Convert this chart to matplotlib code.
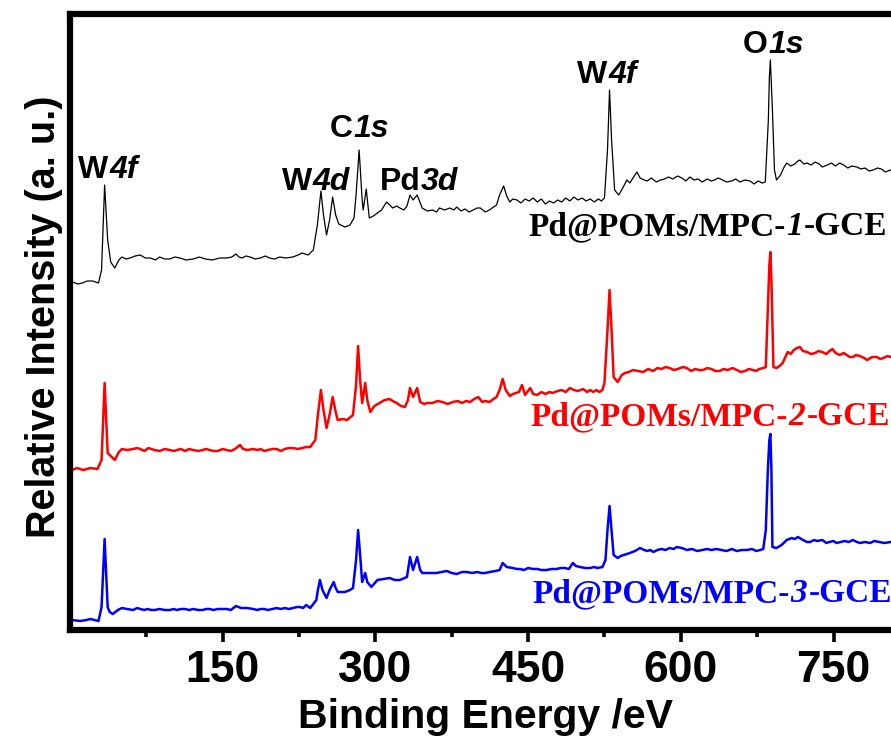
import matplotlib
matplotlib.use('Agg')
import matplotlib.pyplot as plt
from matplotlib.ticker import FixedLocator

# XPS survey spectra (intensity in a.u., curves already stacked)
energy_1 = [2, 8, 12, 17, 22, 28, 31, 34, 37, 40,
            44, 48, 51, 55, 59, 64, 69, 74, 79, 84,
            88, 93, 98, 103, 108, 114, 121, 127, 133, 140,
            147, 154, 159, 163, 166, 169, 173, 177, 182, 187,
            192, 196, 201, 206, 212, 219, 224, 228, 234, 239,
            243, 246.5, 249, 252, 255, 258, 261, 264, 270, 275,
            279, 281, 284, 287, 288, 291, 294, 298, 302, 306,
            311, 314, 317, 321, 324, 328, 331, 334, 337, 341,
            346, 351, 356, 360, 363, 368, 373, 377, 380, 384,
            388, 392, 396, 400, 403, 408, 412, 416, 419, 422,
            426, 429, 432, 435, 439, 443, 447, 451, 455, 459,
            463, 467, 471, 475, 479, 483, 487, 491, 495, 499,
            503, 507, 511, 515, 519, 522, 525, 528, 530, 532,
            535, 539, 543, 547, 550, 553, 557, 560, 564, 567,
            571, 576, 580, 584, 588, 592, 597, 601, 605, 609,
            613, 617, 621, 626, 630, 633, 637, 641, 645, 650,
            654, 658, 663, 668, 672, 676, 680, 683, 686, 687,
            688, 690, 692, 694, 698, 701, 704, 708, 712, 715,
            717, 721, 724, 728, 732, 736, 739, 744, 748, 752,
            756, 760, 764, 768, 773, 777, 781, 785, 789, 793,
            797, 801, 806, 815]
intensity_1 = [348, 346, 347, 349, 349, 347, 360, 445, 390, 368,
               362, 370, 373, 371, 372, 374, 375, 372, 372, 370,
               373, 371, 371, 373, 372, 370, 371, 373, 371, 370,
               372, 372, 373, 376, 373, 372, 374, 373, 371, 372,
               374, 372, 371, 373, 372, 373, 375, 377, 375, 380,
               405, 439, 415, 395, 410, 433, 415, 406, 403, 405,
               412, 435, 480, 430, 420, 441, 412, 414, 417, 420,
               428, 425, 422, 424, 422, 420, 424, 435, 430, 435,
               422, 419, 420, 418, 422, 420, 422, 420, 423, 419,
               421, 418, 420, 422, 422, 418, 420, 423, 425, 435,
               444, 434, 428, 431, 430, 427, 431, 429, 432, 428,
               431, 426, 429, 427, 430, 428, 432, 429, 433, 430,
               432, 429, 431, 428, 431, 429, 432, 480, 540, 490,
               440, 435, 442, 450, 447, 452, 458, 452, 450, 449,
               452, 448, 450, 451, 453, 451, 454, 452, 449, 453,
               450, 451, 448, 451, 449, 450, 452, 450, 448, 449,
               451, 448, 450, 449, 446, 449, 447, 448, 510, 553,
               570, 520, 460, 450, 455, 462, 467, 464, 466, 469,
               470, 466, 467, 465, 468, 466, 463, 465, 467, 464,
               467, 465, 462, 464, 463, 461, 462, 459, 460, 462,
               461, 458, 460, 460]

energy_2 = [2, 7, 13, 20, 27, 31, 34, 37, 39, 44,
            48, 51, 56, 62, 66, 69, 73, 77, 83, 88,
            93, 98, 102, 105, 109, 113, 117, 121, 126, 130,
            134, 137, 141, 145, 150, 154, 158, 162, 167, 170,
            174, 180, 184, 187, 191, 194, 199, 203, 207, 211,
            215, 219, 224, 228, 232, 236, 241, 243.5, 246.5, 249,
            252, 255, 258, 261, 263, 268, 272, 278, 281, 283,
            285, 287, 290, 292, 295, 299, 304, 309, 314, 317,
            321, 325, 329, 332, 334, 337, 341, 344, 348, 351,
            356, 361, 366, 371, 376, 381, 385, 389, 393, 397,
            401, 405, 408, 412, 416, 419, 422, 425, 428, 432,
            435, 438, 441, 444, 447, 452, 455, 459, 463, 467,
            471, 474, 479, 483, 487, 491, 495, 499, 504, 508,
            511, 514, 517, 520, 523, 525, 528, 530, 532, 534,
            538, 542, 545, 549, 553, 558, 563, 568, 573, 577,
            581, 585, 589, 593, 597, 602, 606, 610, 614, 618,
            622, 626, 630, 634, 638, 642, 646, 651, 655, 659,
            663, 667, 671, 674, 677, 681, 683.5, 685.5, 687, 688,
            689, 691, 694, 697, 700, 705, 708, 711, 714, 717,
            720, 724, 728, 732, 735, 739, 743, 746, 749, 752,
            756, 760, 763, 766, 769, 772, 776, 780, 783, 788,
            792.5, 796, 799, 803, 806, 815]
intensity_2 = [160, 162, 160, 162, 161, 170, 247, 177, 175, 170,
               178, 181, 180, 181, 182, 181, 179, 182, 180, 179,
               181, 180, 179, 180, 181, 179, 181, 180, 179, 180,
               181, 180, 179, 179, 181, 180, 179, 181, 185, 181,
               180, 181, 180, 181, 179, 180, 181, 181, 179, 181,
               182, 182, 181, 182, 183, 183, 190, 215, 240, 220,
               202, 215, 233, 218, 210, 211, 210, 215, 245, 284,
               250, 227, 247, 230, 218, 224, 227, 230, 231, 229,
               227, 224, 223, 230, 242, 233, 242, 228, 226, 227,
               227, 229, 228, 226, 228, 229, 227, 229, 228, 231,
               233, 228, 229, 228, 231, 233, 240, 251, 240, 234,
               236, 237, 238, 245, 235, 242, 236, 235, 238, 236,
               238, 237, 239, 240, 238, 242, 240, 239, 241, 238,
               240, 238, 240, 238, 240, 247, 300, 340, 300, 253,
               248, 255, 257, 258, 260, 259, 258, 261, 259, 262,
               261, 263, 262, 260, 261, 263, 262, 259, 261, 260,
               260, 262, 261, 259, 259, 261, 260, 262, 260, 258,
               259, 261, 260, 259, 261, 262, 263, 320, 365, 378,
               350, 263, 262, 264, 267, 278, 276, 280, 282, 283,
               279, 278, 276, 277, 279, 278, 276, 279, 281, 277,
               275, 277, 275, 273, 273, 275, 274, 272, 270, 273,
               273, 271, 272, 274, 273, 273]

energy_3 = [2, 10, 16, 20, 28, 31, 34, 37, 39, 42,
            47, 51, 56, 62, 66, 69, 73, 76, 80, 83,
            88, 93, 98, 102, 105, 109, 113, 117, 121, 126,
            130, 134, 137, 141, 145, 150, 154, 158, 163, 168,
            174, 180, 184, 187, 191, 194, 199, 203, 207, 211,
            215, 219, 223, 226, 229, 232, 236, 242, 243.5, 245.5,
            248, 252, 255, 259, 261, 263, 270, 275, 278, 281,
            283, 285, 287, 290, 292, 296, 302, 308, 314, 319,
            324, 331, 334, 337, 341, 344, 346, 353, 360, 365,
            370, 375, 380, 385, 390, 395, 400, 404, 408, 412,
            418, 422, 425, 429, 435, 439, 442, 446, 450, 455,
            459, 463, 468, 473, 478, 482, 486, 490, 494, 497,
            501, 506, 511, 515, 518, 523, 526, 528, 530, 532,
            534, 538, 541, 544, 547, 550, 555, 560, 564, 567,
            570, 573, 577, 581, 585, 589, 593, 596, 601, 606,
            611, 616, 621, 626, 630, 635, 640, 645, 650, 655,
            660, 665, 670, 674, 678, 681, 683.5, 685.5, 687, 688,
            689, 690, 694, 699, 704, 709, 712, 715, 720, 724,
            727, 731, 734, 739, 743, 746, 750, 753, 757, 761,
            765, 769, 773, 776, 781, 786, 790, 795, 800, 806,
            815]
intensity_3 = [10, 9, 10, 11, 9, 23, 91, 23, 18, 16,
               20, 22, 21, 20, 22, 21, 20, 21, 20, 20,
               21, 20, 20, 21, 20, 21, 21, 20, 21, 20,
               20, 21, 21, 20, 21, 21, 21, 20, 24, 22,
               22, 21, 20, 21, 21, 20, 21, 22, 21, 22,
               21, 22, 23, 23, 22, 25, 22, 30, 40, 50,
               40, 32, 40, 48, 42, 38, 38, 40, 42, 70,
               100, 75, 48, 57, 48, 43, 50, 51, 52, 50,
               50, 53, 73, 60, 73, 60, 57, 57, 57, 58,
               59, 57, 56, 58, 58, 57, 58, 57, 57, 58,
               59, 60, 67, 63, 62, 61, 61, 60, 62, 61,
               61, 60, 60, 61, 61, 62, 62, 61, 67, 64,
               63, 62, 62, 63, 62, 63, 70, 100, 124, 100,
               75, 72, 74, 75, 76, 77, 79, 82, 80, 79,
               80, 78, 80, 81, 80, 82, 81, 83, 82, 80,
               81, 79, 80, 81, 80, 81, 80, 79, 81, 79,
               80, 80, 81, 79, 80, 81, 100, 160, 190, 196,
               160, 83, 82, 85, 90, 92, 91, 93, 90, 88,
               88, 90, 89, 90, 87, 88, 89, 87, 88, 89,
               88, 90, 88, 87, 88, 87, 89, 88, 87, 88,
               88]

series_names = ['1', '2', '3']
series_colors = ['black', 'red', 'blue']

fig = plt.figure(figsize=(8.91, 7.42), dpi=100)
# axes runs past the right edge of the picture, like the cropped original
ax = fig.add_axes([70 / 891, 112 / 742, 1018 / 891, 616 / 742])

ax.plot(energy_1, intensity_1, color='black', lw=0.9)
ax.plot(energy_2, intensity_2, color='red', lw=1.8)
ax.plot(energy_3, intensity_3, color='blue', lw=1.8)

ax.set_xlim(0, 1000)
ax.set_ylim(0, 616)

for sp in ax.spines.values():
    sp.set_linewidth(4.5)

ax.xaxis.set_major_locator(FixedLocator([150, 300, 450, 600, 750]))
ax.xaxis.set_minor_locator(FixedLocator([75, 225, 375, 525, 675, 825, 975]))
ax.tick_params(axis='x', which='major', direction='out', length=8.5, width=2.6, pad=6)
ax.tick_params(axis='x', which='minor', direction='out', length=5, width=2.6)
ax.tick_params(axis='y', which='both', left=False, labelleft=False)
for lab in ax.get_xticklabels():
    lab.set_fontfamily('Liberation Sans')
    lab.set_fontweight('bold')
    lab.set_fontsize(32)

ax.set_xlabel('Binding Energy /eV', family='Liberation Sans', weight='bold', size=29.5, va='baseline')
ax.xaxis.set_label_coords((486 - 70) / 1018, (630 - 728) / 616)
ax.set_ylabel('Relative Intensity (a. u.)', family='Liberation Sans', weight='bold', size=28.5, va='center')
ax.yaxis.set_label_coords((44 - 70) / 1018, (630 - 317) / 616)

renderer = fig.canvas.get_renderer()


def mixed_text(x, y, parts, color, family, size):
    # put upright / italic pieces side by side on one baseline
    xp, yp = ax.transData.transform((x, y))
    for s, st in parts:
        xd, yd = ax.transData.inverted().transform((xp, yp))
        t = ax.text(xd, yd, s, color=color, family=family, size=size, weight='bold',
                    style=st, ha='left', va='baseline')
        bb = t.get_window_extent(renderer)
        xp = bb.x1 + 1


# peak labels
mixed_text(8, 452, [('W', 'normal'), ('4f', 'italic')], 'black', 'Liberation Sans', 23)
mixed_text(208, 440, [('W', 'normal'), ('4d', 'italic')], 'black', 'Liberation Sans', 23)
mixed_text(255, 493, [('C', 'normal'), ('1s', 'italic')], 'black', 'Liberation Sans', 23)
mixed_text(304, 440, [('Pd', 'normal'), ('3d', 'italic')], 'black', 'Liberation Sans', 23)
mixed_text(498, 547, [('W', 'normal'), ('4f', 'italic')], 'black', 'Liberation Sans', 23)
mixed_text(661, 577, [('O', 'normal'), ('1s', 'italic')], 'black', 'Liberation Sans', 23)

# sample labels
label_pos = [(450, 395), (452, 205), (454, 28)]
for name, col, (lx, ly) in zip(series_names, series_colors, label_pos):
    mixed_text(lx, ly, [('Pd@POMs/MPC-', 'normal'), (name, 'italic'), ('-GCE', 'normal')],
               col, 'Liberation Serif', 24)

plt.savefig('out.png', dpi=100)
